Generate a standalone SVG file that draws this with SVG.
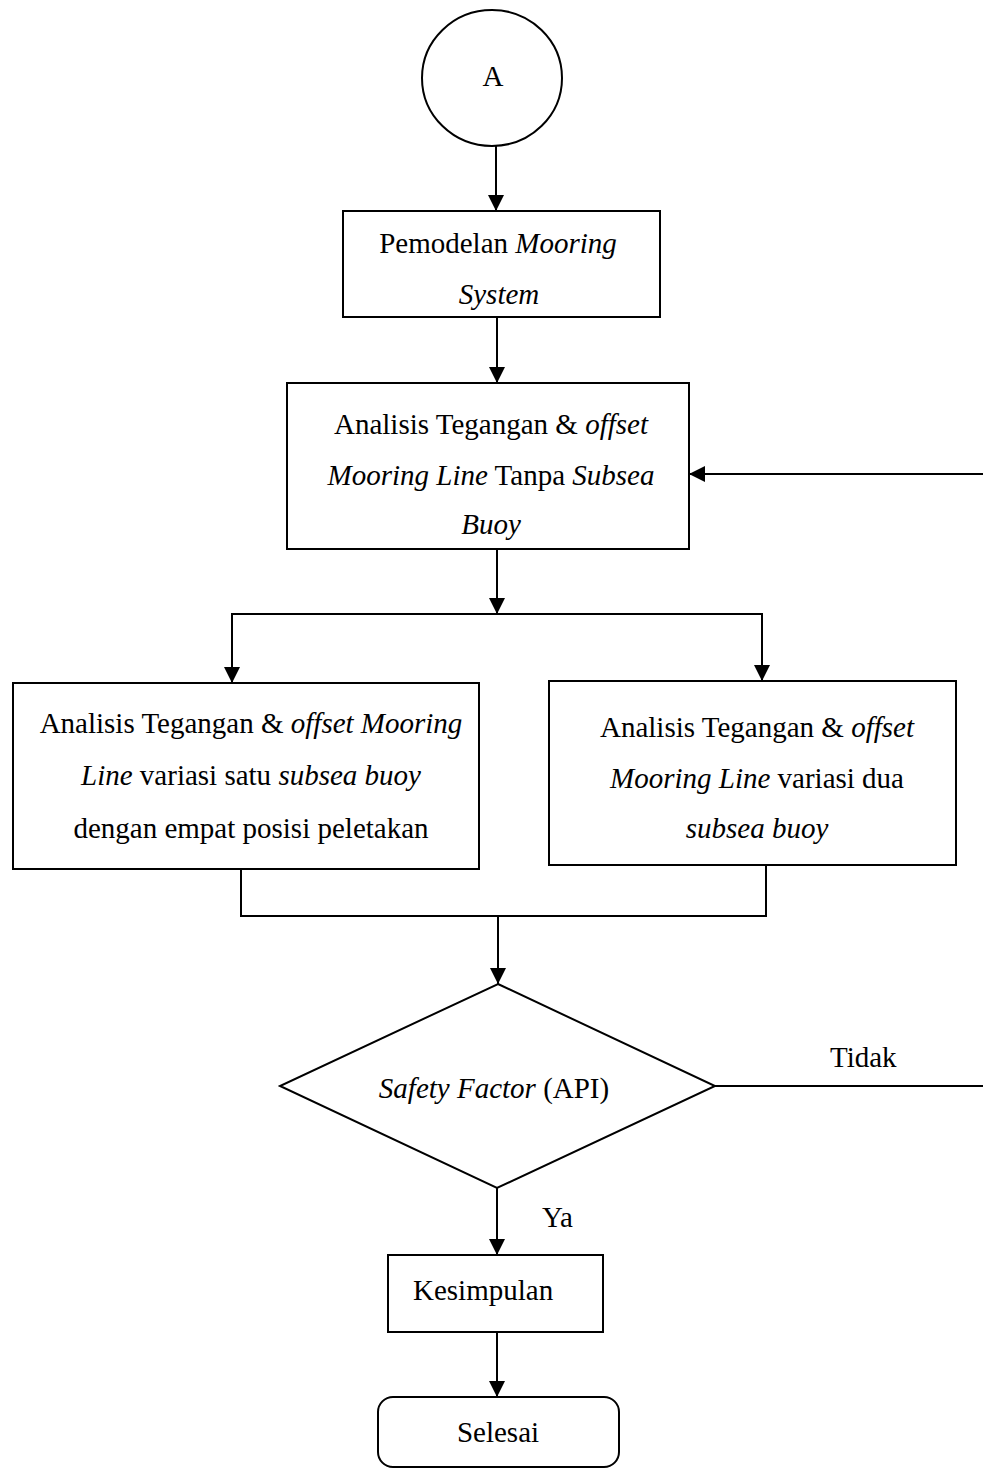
<svg xmlns="http://www.w3.org/2000/svg" width="983" height="1470" viewBox="0 0 983 1470">
<style>
.s{fill:#fff;stroke:#000;stroke-width:2}
.c{fill:none;stroke:#000;stroke-width:2}
text{font-family:"Liberation Serif","Times New Roman",serif;font-size:29px;fill:#000}
.m{text-anchor:middle}
.i{font-style:italic}
</style>
<defs>
<marker id="ah" markerUnits="userSpaceOnUse" viewBox="0 0 16 16" markerWidth="16" markerHeight="16" refX="16" refY="8" orient="auto">
<path d="M0,0 L16,8 L0,16 z" fill="#000"/>
</marker>
</defs>
<rect width="983" height="1470" fill="#fff"/>
<g id="connectors">
<line class="c" x1="496" y1="146" x2="496" y2="211" marker-end="url(#ah)"/>
<line class="c" x1="497" y1="317" x2="497" y2="383" marker-end="url(#ah)"/>
<line class="c" x1="983" y1="474" x2="689" y2="474" marker-end="url(#ah)"/>
<line class="c" x1="497" y1="549" x2="497" y2="614" marker-end="url(#ah)"/>
<polyline class="c" points="232,683 232,614 762,614 762,681"/>
<line class="c" x1="232" y1="650" x2="232" y2="683" marker-end="url(#ah)"/>
<line class="c" x1="762" y1="650" x2="762" y2="681" marker-end="url(#ah)"/>
<polyline class="c" points="241,869 241,916 766,916 766,865"/>
<line class="c" x1="498" y1="916" x2="498" y2="984" marker-end="url(#ah)"/>
<line class="c" x1="715" y1="1086" x2="983" y2="1086"/>
<line class="c" x1="497" y1="1188" x2="497" y2="1255" marker-end="url(#ah)"/>
<line class="c" x1="497" y1="1332" x2="497" y2="1397" marker-end="url(#ah)"/>
<text x="830" y="1067">Tidak</text>
<text x="542" y="1227">Ya</text>
</g>
<g id="start">
<ellipse class="s" cx="492" cy="78" rx="70" ry="68"/>
<text class="m" x="493" y="86">A</text>
</g>
<g id="pemodelan">
<rect class="s" x="343" y="211" width="317" height="106"/>
<text class="m" x="498" y="253">Pemodelan <tspan class="i">Mooring</tspan></text>
<text class="m i" x="499" y="304">System</text>
</g>
<g id="analisis-tanpa">
<rect class="s" x="287" y="383" width="402" height="166"/>
<text class="m" x="491" y="434">Analisis Tegangan &amp; <tspan class="i">offset</tspan></text>
<text class="m" x="491" y="485"><tspan class="i">Mooring Line</tspan> Tanpa <tspan class="i">Subsea</tspan></text>
<text class="m i" x="491" y="534">Buoy</text>
</g>
<g id="analisis-satu">
<rect class="s" x="13" y="683" width="466" height="186"/>
<text class="m" x="251" y="733">Analisis Tegangan &amp; <tspan class="i">offset Mooring</tspan></text>
<text class="m" x="251" y="785"><tspan class="i">Line</tspan> variasi satu <tspan class="i">subsea buoy</tspan></text>
<text class="m" x="251" y="838">dengan empat posisi peletakan</text>
</g>
<g id="analisis-dua">
<rect class="s" x="549" y="681" width="407" height="184"/>
<text class="m" x="757" y="737">Analisis Tegangan &amp; <tspan class="i">offset</tspan></text>
<text class="m" x="757" y="788"><tspan class="i">Mooring Line</tspan> variasi dua</text>
<text class="m i" x="757" y="838">subsea buoy</text>
</g>
<g id="safety">
<polygon class="s" points="498,984 715,1086 497,1188 280,1086"/>
<text class="m" x="494" y="1098"><tspan class="i">Safety Factor</tspan> (API)</text>
</g>
<g id="kesimpulan">
<rect class="s" x="388" y="1255" width="215" height="77"/>
<text x="413" y="1300">Kesimpulan</text>
</g>
<g id="selesai">
<rect class="s" x="378" y="1397" width="241" height="70" rx="15" ry="15"/>
<text class="m" x="498" y="1442">Selesai</text>
</g>
</svg>
